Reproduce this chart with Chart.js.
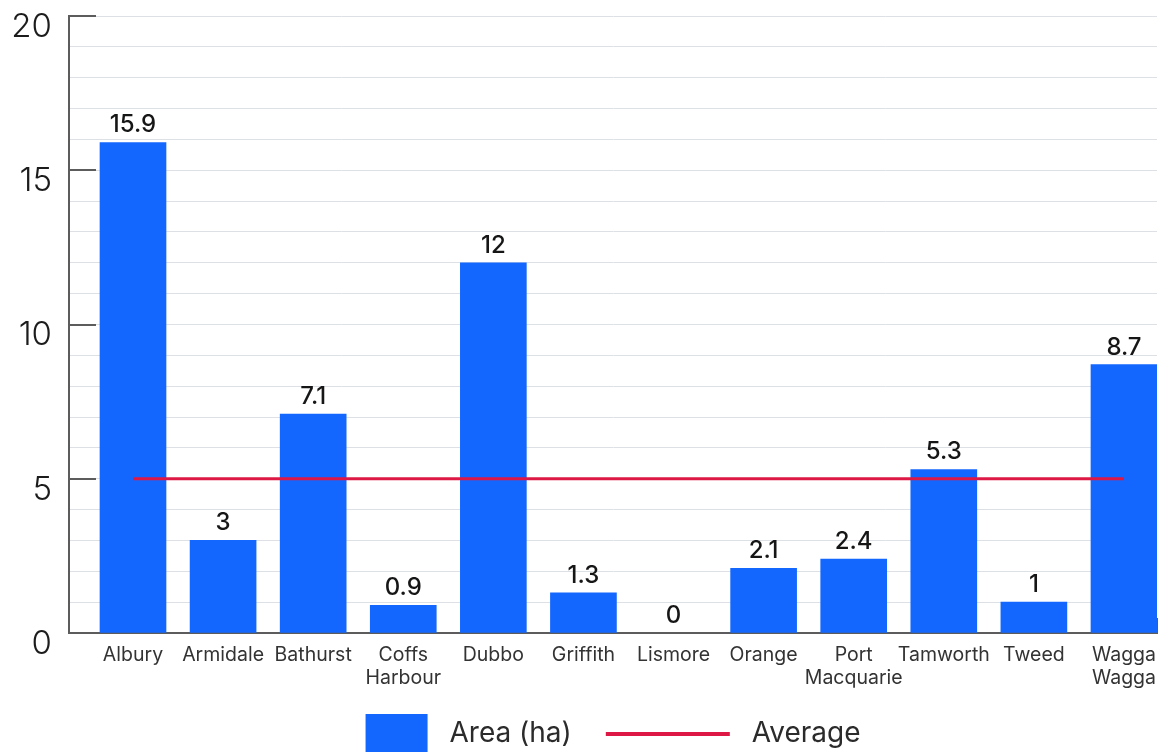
<!DOCTYPE html>
<html>
<head>
<meta charset="utf-8">
<title>Area by city</title>
<script src="https://cdn.jsdelivr.net/npm/chart.js@4/dist/chart.umd.min.js"></script>
<style>
  html, body { margin: 0; padding: 0; background: #ffffff; overflow: hidden; height: 752px; }
  #wrap { position: relative; width: 1164px; height: 758px; }
</style>
</head>
<body>
<div id="wrap"><canvas id="chart"></canvas></div>
<script>
// Regional cities and their area in hectares
const categories = ['Albury', 'Armidale', 'Bathurst', 'Coffs Harbour', 'Dubbo', 'Griffith',
  'Lismore', 'Orange', 'Port Macquarie', 'Tamworth', 'Tweed', 'Wagga Wagga'];
const areaValues = [15.9, 3, 7.1, 0.9, 12, 1.3, 0, 2.1, 2.4, 5.3, 1, 8.7];
const averageValues = [5, 5, 5, 5, 5, 5, 5, 5, 5, 5, 5, 5];
const yTickLabels = [0, 5, 10, 15, 20];

const BAR_BLUE = '#1467fe';
const AVG_RED = '#dd1845';
const AXIS_GREY = '#5c5c5c';
const GRID_GREY = '#dde1e5';
const FONT = 'Inter, "Noto Sans", sans-serif';

// Legend icons: a filled square and a short horizontal rule
function makeIcon(w, h, draw) {
  const c = document.createElement('canvas');
  c.width = w; c.height = h;
  draw(c.getContext('2d'));
  return c;
}
const ICON_W = 139;
const squareIcon = makeIcon(ICON_W, 40, g => { g.fillStyle = BAR_BLUE; g.fillRect(69, 0, 62, 40); });
const lineIcon = makeIcon(ICON_W, 4, g => { g.fillStyle = AVG_RED; g.fillRect(7, 0, 124, 4); });

// Value labels above each bar
const barValueLabels = {
  id: 'barValueLabels',
  afterDatasetsDraw(chart) {
    const meta = chart.getDatasetMeta(0);
    const g = chart.ctx;
    g.save();
    g.font = '500 24px ' + FONT;
    g.fillStyle = '#161616';
    g.textAlign = 'center';
    g.textBaseline = 'alphabetic';
    meta.data.forEach((bar, i) => {
      g.fillText(String(areaValues[i]), bar.x, bar.y - 10);
    });
    g.restore();
  }
};

new Chart(document.getElementById('chart'), {
  type: 'bar',
  data: {
    datasets: [
      {
        label: 'Area (ha)',
        data: areaValues.map((v, i) => ({ x: i, y: v })),
        backgroundColor: c => (c.raw && c.raw.y === 0) ? 'rgba(0,0,0,0)' : BAR_BLUE,
        barThickness: 66,
        order: 1
      },
      {
        type: 'line',
        label: 'Average',
        data: averageValues.map((v, i) => ({ x: i, y: v })),
        borderColor: AVG_RED,
        borderWidth: 3,
        pointRadius: 0,
        fill: false,
        order: 0
      }
    ]
  },
  options: {
    responsive: true,
    maintainAspectRatio: false,
    animation: false,
    layout: { padding: { left: 0, right: 7, top: 16, bottom: 0 } },
    plugins: {
      tooltip: { enabled: false },
      legend: {
        position: 'bottom',
        labels: {
          usePointStyle: true,
          pointStyleWidth: ICON_W,
          padding: 27,
          color: '#2b2b2b',
          font: { family: FONT, size: 28, weight: '400' },
          generateLabels: () => [
            { text: 'Area (ha)', pointStyle: squareIcon, fillStyle: BAR_BLUE, strokeStyle: BAR_BLUE, lineWidth: 0, hidden: false, datasetIndex: 0, fontColor: '#2b2b2b' },
            { text: 'Average', pointStyle: lineIcon, fillStyle: AVG_RED, strokeStyle: AVG_RED, lineWidth: 0, hidden: false, datasetIndex: 1, fontColor: '#2b2b2b' }
          ]
        }
      }
    },
    scales: {
      x: {
        type: 'linear',
        offset: false,
        min: -0.7104,
        max: 11.3666,
        afterBuildTicks: s => {
          s.ticks = s.ticks.filter(t => Number.isInteger(t.value) && t.value >= 0 && t.value < categories.length);
          s.ticks.push({ value: s.max });
        },
        afterFit: s => { s.height = 60; s.paddingLeft = 0; s.paddingRight = 0; },
        ticks: {
          stepSize: 1,
          includeBounds: false,
          autoSkip: false,
          maxRotation: 0,
          padding: 10,
          color: '#333333',
          font: { family: FONT, size: 19.5, lineHeight: 1.2 },
          callback: v => {
            if (!Number.isInteger(v) || v < 0 || v >= categories.length) return '';
            const name = categories[v];
            return name.includes(' ') ? name.split(' ') : name;
          }
        },
        grid: {
          offset: false,
          drawTicks: false,
          lineWidth: 2,
          color: c => (c.tick && c.tick.value > categories.length - 1) ? AXIS_GREY : 'rgba(0,0,0,0)'
        },
        border: { display: true, color: AXIS_GREY, width: 2, dash: [0, 602, 15, 100] }
      },
      y: {
        min: 0,
        max: 20,
        afterFit: s => { s.width = 69; s.paddingTop = 0; s.paddingBottom = 0; },
        ticks: {
          stepSize: 1,
          autoSkip: false,
          padding: 17,
          labelOffset: 11,
          color: '#1c1c1c',
          font: { family: FONT, size: 33, weight: '300', lineHeight: 1 },
          callback: v => yTickLabels.includes(v) ? String(v) : ''
        },
        grid: { drawTicks: false, color: GRID_GREY, lineWidth: 1 },
        border: { display: true, color: AXIS_GREY, width: 2 }
      },
      yMajor: {
        position: 'right',
        min: 0,
        max: 20,
        afterFit: s => { s.width = 0; s.paddingTop = 0; s.paddingBottom = 0; },
        ticks: { display: false, stepSize: 5, autoSkip: false },
        grid: { drawTicks: false, color: AXIS_GREY, lineWidth: 2 },
        border: { display: false, dash: [27, 3000] }
      }
    }
  },
  plugins: [barValueLabels]
});
</script>
</body>
</html>
